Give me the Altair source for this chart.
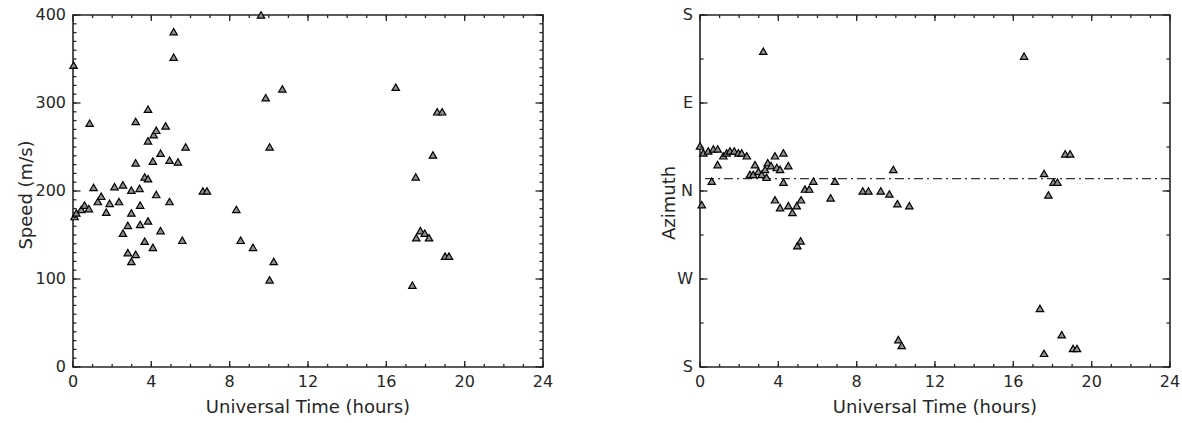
import altair as alt
import pandas as pd

# ---------------- data ----------------
speed_hours = [0.03, 0.08, 0.17, 0.42, 0.59, 0.81, 0.85, 1.05, 1.27, 1.44, 1.70, 1.87,
               2.12, 2.35, 2.55, 2.55, 2.80, 2.80, 2.98, 2.98, 2.98, 3.20, 3.20, 3.20,
               3.40, 3.43, 3.43, 3.66, 3.66, 3.83, 3.83, 3.83, 3.83, 4.08, 4.08, 4.12,
               4.25, 4.25, 4.47, 4.47, 4.73, 4.93, 4.93, 5.14, 5.14, 5.36, 5.58, 5.75,
               6.63, 6.84, 8.34, 8.56, 9.19, 9.60, 9.84, 10.04, 10.04, 10.25, 10.69,
               16.48, 17.33, 17.50, 17.53, 17.74, 17.96, 18.18, 18.38, 18.60, 18.85,
               19.00, 19.20]
speed_values = [343, 171, 175, 179, 184, 180, 277, 204, 188, 194, 176, 186,
                205, 188, 207, 152, 161, 130, 201, 175, 120, 279, 232, 128,
                203, 184, 162, 216, 143, 293, 257, 214, 166, 234, 136, 264,
                269, 196, 243, 155, 274, 235, 188, 381, 352, 233, 144, 250,
                200, 200, 179, 144, 136, 400, 306, 250, 99, 120, 316,
                318, 93, 216, 147, 155, 152, 147, 241, 290, 290,
                126, 126]

az_hours = [0.00, 0.17, 0.42, 0.68, 0.90, 0.90, 0.60, 0.09, 1.19, 1.36, 1.53, 1.75,
            1.96, 2.13, 2.39, 2.81, 2.55, 2.72, 2.98, 3.15, 3.23, 3.32, 3.40, 3.46,
            3.63, 3.83, 3.83, 3.92, 4.09, 4.09, 4.26, 4.26, 4.51, 4.51, 4.72, 4.94,
            4.97, 5.14, 5.16, 5.36, 5.58, 5.79, 6.67, 6.89, 8.31, 8.60, 9.23, 9.67,
            9.87, 10.08, 10.69, 10.13, 10.30, 16.55, 17.36, 17.57, 17.57, 17.79,
            18.05, 18.25, 18.47, 18.65, 18.90, 19.05, 19.25]
az_values = [46, 39, 41, 43, 43, 27, 10, -14, 36, 39, 41, 41,
             39, 39, 36, 27, 17, 17, 20, 17, 143, 22, 14, 29,
             26, 36, -9, 24, 22, -17, 39, 9, 26, -15, -22, -15,
             -56, -51, -9, 2, 2, 10, -7, 10, 0, 0, 0, -3,
             22, -13, -15, -152, -158, 138, -120, 18, -166, -4,
             9, 9, -147, 38, 38, -161, -161]

mean_azimuth = [12.7]

hour_major = [0, 4, 8, 12, 16, 20, 24]
hour_labels = ["0", "4", "8", "12", "16", "20", "24"]
hour_minor = list(range(0, 25))
speed_major = [0, 100, 200, 300, 400]
speed_labels = ["0", "100", "200", "300", "400"]
speed_minor = list(range(0, 401, 10))
az_major = [-180, -90, 0, 90, 180]
az_labels = ["S", "W", "N", "E", "S"]
az_minor = [-180, -135, -90, -45, 0, 45, 90, 135, 180]

x_title = "Universal Time (hours)"
speed_title = "Speed (m/s)"
az_title = "Azimuth"

# ---------------- style ----------------
FONT = "DejaVu Sans"
W, H = 470, 352
XMAJ, XMIN = 6, 3
YMAJ, YMIN = 7.5, 3.5
INK = "#262626"


def x_tick_layers(values, length, xs):
    df = pd.DataFrame({"t": values})
    base = alt.Chart(df).mark_rule(color=INK, strokeWidth=1.3)
    xenc = alt.X("t:Q", scale=xs, axis=None)
    bottom = base.encode(x=xenc, y=alt.value(H), y2=alt.value(H - length))
    top = base.encode(x=xenc, y=alt.value(0), y2=alt.value(length))
    return [bottom, top]


def y_tick_layers(values, length, ys):
    df = pd.DataFrame({"t": values})
    base = alt.Chart(df).mark_rule(color=INK, strokeWidth=1.3)
    yenc = alt.Y("t:Q", scale=ys, axis=None)
    left = base.encode(y=yenc, x=alt.value(0), x2=alt.value(length))
    right = base.encode(y=yenc, x=alt.value(W), x2=alt.value(W - length))
    return [left, right]


def panel(df, xdom, ydom, ymaj, ymin, ylabels, ytitle, ytitle_dx, ytitle_dy, extra=None):
    xs = alt.Scale(domain=xdom, nice=False, zero=False)
    ys = alt.Scale(domain=ydom, nice=False, zero=False)

    pts = alt.Chart(df).mark_point(shape="triangle-up", filled=True, size=55,
                                   fill="#8f8f8f", stroke="black", strokeWidth=1.2,
                                   opacity=1).encode(
        x=alt.X("h:Q", scale=xs, axis=None),
        y=alt.Y("v:Q", scale=ys, axis=None),
    )

    xlab = alt.Chart(pd.DataFrame({"t": hour_major, "lab": hour_labels})).mark_text(
        font=FONT, fontSize=16, color=INK, align="center", baseline="middle"
    ).encode(x=alt.X("t:Q", scale=xs, axis=None), y=alt.value(H + 15), text="lab:N")

    ylab = alt.Chart(pd.DataFrame({"t": ymaj, "lab": ylabels})).mark_text(
        font=FONT, fontSize=16, color=INK, align="right", baseline="middle"
    ).encode(y=alt.Y("t:Q", scale=ys, axis=None), x=alt.value(-7), text="lab:N")

    xt = alt.Chart(pd.DataFrame({"lab": [x_title]})).mark_text(
        font=FONT, fontSize=18, color=INK, align="center", baseline="middle"
    ).encode(x=alt.value(W / 2), y=alt.value(H + 41), text="lab:N")

    yt = alt.Chart(pd.DataFrame({"lab": [ytitle]})).mark_text(
        font=FONT, fontSize=18, color=INK, align="center", baseline="middle", angle=270
    ).encode(x=alt.value(ytitle_dx), y=alt.value(H / 2 + ytitle_dy), text="lab:N")

    layers = []
    if extra is not None:
        layers.append(extra)
    layers.append(pts)
    layers += x_tick_layers(hour_minor, XMIN, xs)
    layers += x_tick_layers(hour_major, XMAJ, xs)
    layers += y_tick_layers(ymin, YMIN, ys)
    layers += y_tick_layers(ymaj, YMAJ, ys)
    layers += [xlab, ylab, xt, yt]
    return alt.layer(*layers).properties(width=W, height=H)


speed_df = pd.DataFrame({"h": speed_hours, "v": speed_values})
az_df = pd.DataFrame({"h": az_hours, "v": az_values})

left = panel(speed_df, [0, 24], [0, 400], speed_major, speed_minor, speed_labels,
             speed_title, -46, 4)

mean_line = alt.Chart(pd.DataFrame({"m": mean_azimuth})).mark_rule(
    color="#333333", strokeWidth=1.4, strokeDash=[9, 4, 2, 4]
).encode(y=alt.Y("m:Q", scale=alt.Scale(domain=[-180, 180], nice=False, zero=False),
                 axis=None))

right = panel(az_df, [0, 24], [-180, 180], az_major, az_minor, az_labels,
              az_title, -30, 12, extra=mean_line)

chart = alt.hconcat(left, right, spacing=157, bounds="flush").properties(
    padding={"left": 17, "top": 6, "right": 0, "bottom": 2},
    background="white",
).configure_view(stroke=INK, strokeWidth=1.6)

chart.save("out.html", embed_options={"renderer": "svg", "actions": False})
